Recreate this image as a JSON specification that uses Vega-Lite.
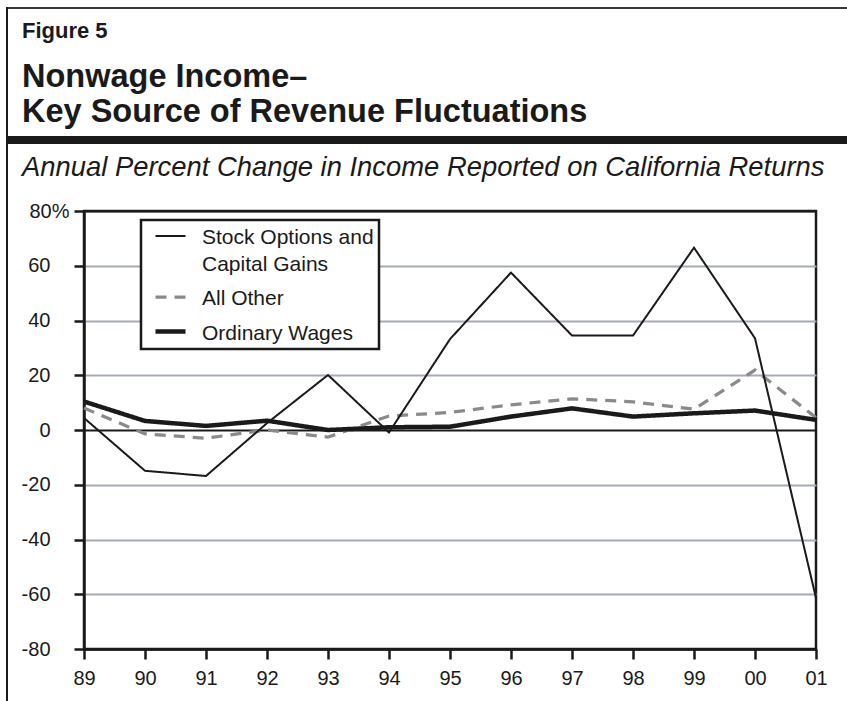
{
  "$schema": "https://vega.github.io/schema/vega-lite/v6.json",
  "background": "white",
  "padding": {"left": 6, "top": 7, "right": 0, "bottom": 0},
  "config": {
    "font": "Liberation Sans",
    "view": {"stroke": null},
    "concat": {"spacing": 0}
  },
  "datasets": {
    "blank": [],
    "d": [
      {"year": "89", "series": "All Other", "pct": 8},
      {"year": "90", "series": "All Other", "pct": -1.4},
      {"year": "91", "series": "All Other", "pct": -3},
      {"year": "92", "series": "All Other", "pct": 0},
      {"year": "93", "series": "All Other", "pct": -2.6},
      {"year": "94", "series": "All Other", "pct": 5.1},
      {"year": "95", "series": "All Other", "pct": 6.4},
      {"year": "96", "series": "All Other", "pct": 9.2},
      {"year": "97", "series": "All Other", "pct": 11.4},
      {"year": "98", "series": "All Other", "pct": 10.3},
      {"year": "99", "series": "All Other", "pct": 7.6},
      {"year": "00", "series": "All Other", "pct": 21.9},
      {"year": "01", "series": "All Other", "pct": 4.5},
      {"year": "89", "series": "Ordinary Wages", "pct": 10.4},
      {"year": "90", "series": "Ordinary Wages", "pct": 3.3},
      {"year": "91", "series": "Ordinary Wages", "pct": 1.5},
      {"year": "92", "series": "Ordinary Wages", "pct": 3.4},
      {"year": "93", "series": "Ordinary Wages", "pct": 0},
      {"year": "94", "series": "Ordinary Wages", "pct": 1},
      {"year": "95", "series": "Ordinary Wages", "pct": 1.2},
      {"year": "96", "series": "Ordinary Wages", "pct": 4.9},
      {"year": "97", "series": "Ordinary Wages", "pct": 7.9},
      {"year": "98", "series": "Ordinary Wages", "pct": 4.9},
      {"year": "99", "series": "Ordinary Wages", "pct": 6.1},
      {"year": "00", "series": "Ordinary Wages", "pct": 7.1},
      {"year": "01", "series": "Ordinary Wages", "pct": 3.7},
      {"year": "89", "series": "Stock Options and Capital Gains", "pct": 4.4},
      {"year": "90", "series": "Stock Options and Capital Gains", "pct": -14.9},
      {"year": "91", "series": "Stock Options and Capital Gains", "pct": -16.8},
      {"year": "92", "series": "Stock Options and Capital Gains", "pct": 2.5},
      {"year": "93", "series": "Stock Options and Capital Gains", "pct": 20.1},
      {"year": "94", "series": "Stock Options and Capital Gains", "pct": -0.9},
      {"year": "95", "series": "Stock Options and Capital Gains", "pct": 33.2},
      {"year": "96", "series": "Stock Options and Capital Gains", "pct": 57.5},
      {"year": "97", "series": "Stock Options and Capital Gains", "pct": 34.5},
      {"year": "98", "series": "Stock Options and Capital Gains", "pct": 34.5},
      {"year": "99", "series": "Stock Options and Capital Gains", "pct": 66.6},
      {"year": "00", "series": "Stock Options and Capital Gains", "pct": 33.5},
      {"year": "01", "series": "Stock Options and Capital Gains", "pct": -61.4}
    ]
  },
  "spacing": 0,
  "hconcat": [
    {
      "data": {"name": "blank"},
      "width": 2,
      "height": 694,
      "view": {"fill": "#1a1a1a", "stroke": null},
      "mark": {"type": "point", "opacity": 0}
    },
    {
      "columns": 1,
      "spacing": 10,
      "concat": [
        {
          "data": {"name": "blank"},
          "width": 840,
          "height": 2,
          "view": {"fill": "#3a3a3a", "stroke": null},
          "mark": {"type": "point", "opacity": 0}
        },
        {
          "columns": 1,
          "spacing": 8,
          "concat": [
            {
              "data": {"name": "blank"},
              "width": 840,
              "height": 8,
              "view": {"fill": "#1a1a1a", "stroke": null},
              "mark": {"type": "point", "opacity": 0},
              "title": {
                "text": "Figure 5",
                "subtitle": ["Nonwage Income–", "Key Source of Revenue Fluctuations"],
                "anchor": "start",
                "frame": "group",
                "dx": 14,
                "font": "Liberation Sans",
                "fontSize": 22,
                "fontWeight": "bold",
                "color": "#1a1a1a",
                "subtitleFont": "Liberation Sans",
                "subtitleFontSize": 32.5,
                "subtitleFontWeight": "bold",
                "subtitleColor": "#1a1a1a",
                "subtitleLineHeight": 35,
                "subtitlePadding": 18,
                "offset": 7
              }
            },
            {
              "spacing": 0,
              "bounds": "flush",
              "hconcat": [
                {
                  "data": {"name": "blank"},
                  "width": 76,
                  "height": 438,
                  "view": {"stroke": null},
                  "mark": {"type": "point", "opacity": 0}
                },
                {
                  "data": {"name": "d"},
                  "width": 732,
                  "height": 438,
                  "view": {"stroke": "#1a1a1a", "strokeWidth": 2.5},
                  "title": {
                    "text": "Annual Percent Change in Income Reported on California Returns",
                    "anchor": "start",
                    "frame": "bounds",
                    "dx": 1,
                    "font": "Liberation Sans",
                    "fontSize": 27.4,
                    "fontStyle": "italic",
                    "fontWeight": "normal",
                    "color": "#1a1a1a",
                    "offset": 20
                  },
                  "mark": {"type": "line", "strokeJoin": "miter", "strokeCap": "butt"},
                  "encoding": {
                    "x": {
                      "field": "year",
                      "type": "ordinal",
                      "scale": {"type": "point", "padding": 0, "domain": ["89", "90", "91", "92", "93", "94", "95", "96", "97", "98", "99", "00", "01"]},
                      "axis": {
                        "title": null,
                        "labelAngle": 0,
                        "labelFontSize": 20,
                        "labelColor": "#1a1a1a",
                        "labelPadding": 9,
                        "tickSize": 10,
                        "tickColor": "#1a1a1a",
                        "tickWidth": 2.5,
                        "domainColor": "#1a1a1a",
                        "domainWidth": 2.5,
                        "grid": false
                      }
                    },
                    "y": {
                      "field": "pct",
                      "type": "quantitative",
                      "scale": {"domain": [-80, 80], "nice": false, "zero": false},
                      "axis": {
                        "title": null,
                        "values": [-80, -60, -40, -20, 0, 20, 40, 60, 80],
                        "labelExpr": "datum.value == 80 ? '80%' : '' + datum.value",
                        "labelFontSize": 20,
                        "labelColor": "#1a1a1a",
                        "labelPadding": {"condition": {"test": "datum.value == 80", "value": 5}, "value": 24},
                        "tickSize": 10,
                        "tickColor": "#1a1a1a",
                        "tickWidth": 2.5,
                        "domainColor": "#1a1a1a",
                        "domainWidth": 2.5,
                        "grid": true,
                        "gridColor": {"condition": {"test": "datum.value == 0 || datum.value == 80 || datum.value == -80", "value": "#1a1a1a"}, "value": "#a3abb3"},
                        "gridWidth": 2
                      }
                    },
                    "color": {
                      "field": "series",
                      "type": "ordinal",
                      "scale": {"domain": ["Stock Options and Capital Gains", "All Other", "Ordinary Wages"], "range": ["#1a1a1a", "#8a8a8a", "#1a1a1a"]},
                      "legend": {
                        "orient": "none", "legendX": 135, "legendY": 213, "title": null,
                        "labelExpr": "datum.label == 'Stock Options and Capital Gains' ? ['Stock Options and', 'Capital Gains'] : datum.label",
                        "labelFont": "Liberation Sans", "labelFontSize": 21, "labelColor": "#1a1a1a", "labelLimit": 0,
                        "labelBaseline": "top",
                        "symbolType": "M-1.5,0H1.5", "symbolSize": 400, "symbolOffset": 12, "labelOffset": 19, "rowPadding": 10,
                        "padding": 5, "strokeColor": "#1a1a1a", "fillColor": "white",
                        "encoding": {"legend": {"strokeWidth": {"value": 2.5}}, "labels": {"dy": {"value": -9}, "lineHeight": {"value": 27}}}
                      }
                    },
                    "strokeDash": {
                      "field": "series",
                      "type": "ordinal",
                      "scale": {"domain": ["Stock Options and Capital Gains", "All Other", "Ordinary Wages"], "range": [[1, 0], [11, 8], [1, 0]]},
                      "legend": {
                        "orient": "none", "legendX": 135, "legendY": 213, "title": null,
                        "labelExpr": "datum.label == 'Stock Options and Capital Gains' ? ['Stock Options and', 'Capital Gains'] : datum.label",
                        "labelFont": "Liberation Sans", "labelFontSize": 21, "labelColor": "#1a1a1a", "labelLimit": 0,
                        "labelBaseline": "top",
                        "symbolType": "M-1.5,0H1.5", "symbolSize": 400, "symbolOffset": 12, "labelOffset": 19, "rowPadding": 10,
                        "padding": 5, "strokeColor": "#1a1a1a", "fillColor": "white",
                        "encoding": {"legend": {"strokeWidth": {"value": 2.5}}, "labels": {"dy": {"value": -9}, "lineHeight": {"value": 27}}}
                      }
                    },
                    "strokeWidth": {
                      "field": "series",
                      "type": "ordinal",
                      "scale": {"domain": ["Stock Options and Capital Gains", "All Other", "Ordinary Wages"], "range": [2, 4.5, 6.5]},
                      "legend": {
                        "orient": "none", "legendX": 135, "legendY": 213, "title": null,
                        "labelExpr": "datum.label == 'Stock Options and Capital Gains' ? ['Stock Options and', 'Capital Gains'] : datum.label",
                        "labelFont": "Liberation Sans", "labelFontSize": 21, "labelColor": "#1a1a1a", "labelLimit": 0,
                        "labelBaseline": "top",
                        "symbolType": "M-1.5,0H1.5", "symbolSize": 400, "symbolOffset": 12, "labelOffset": 19, "rowPadding": 10,
                        "padding": 5, "strokeColor": "#1a1a1a", "fillColor": "white",
                        "encoding": {"legend": {"strokeWidth": {"value": 2.5}}, "labels": {"dy": {"value": -9}, "lineHeight": {"value": 27}}}
                      }
                    }
                  }
                }
              ]
            }
          ]
        }
      ]
    }
  ]
}
